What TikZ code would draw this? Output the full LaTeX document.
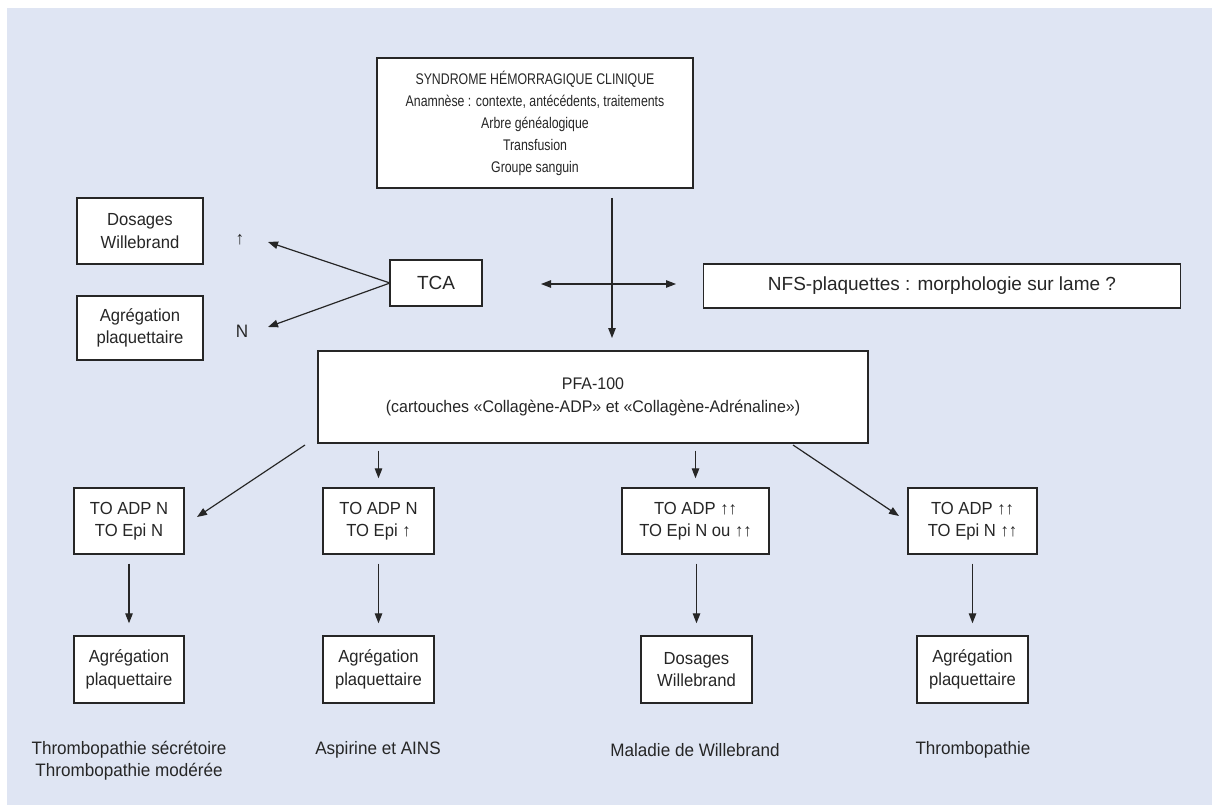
\documentclass[tikz,border=0pt]{standalone}
\usepackage{fontspec}
\setmainfont{Liberation Sans}
\newfontfamily\condfont[FakeStretch=0.8]{Liberation Sans}
\newfontfamily\semifont[FakeStretch=0.95]{Liberation Sans}
\usetikzlibrary{arrows.meta,calc}
\definecolor{bgblue}{HTML}{DFE5F3}
\definecolor{ink}{HTML}{262626}
\newcommand{\up}{↑}
\tikzset{
  box/.style={draw=ink, line width=1.4pt, fill=white, inner sep=0pt, align=center, text=ink,
              font=\semifont\fontsize{17.5}{22.5}\selectfont},
  bigbox/.style={box, font=\fontsize{19}{22}\selectfont},
  topbox/.style={box, font=\condfont\fontsize{15.4}{22}\selectfont},
  lbl/.style={inner sep=0pt, align=center, text=ink, font=\semifont\fontsize{18}{22}\selectfont},
  arr/.style={draw=ink, line width=1.2pt, -{Triangle[length=10pt,width=7.5pt]}},
  darr/.style={draw=ink, line width=1.2pt, {Triangle[length=10pt,width=7.5pt]}-{Triangle[length=10pt,width=7.5pt]}},
  ln/.style={draw=ink, line width=1.2pt}
}
\begin{document}
\begin{tikzpicture}[x=1pt,y=-1pt]
\useasboundingbox (0,0) rectangle (1212,805);
\fill[bgblue] (7,8) rectangle (1212,805);

% top box
\node[topbox, minimum width=316pt, minimum height=130pt] (top) at (535,123)
  {SYNDROME HÉMORRAGIQUE CLINIQUE\\Anamnèse : contexte, antécédents, traitements\\Arbre généalogique\\Transfusion\\Groupe sanguin};

% left side
\node[bigbox, minimum width=92pt, minimum height=46pt] (tca) at (436,283) {TCA};
\node[box, minimum width=126pt, minimum height=66pt] (dosl) at (140,231) {Dosages\\Willebrand};
\node[box, minimum width=126pt, minimum height=64pt] (agrl) at (140,328) {Agrégation\\plaquettaire};
\node[lbl] (uplbl) at (240,240) {\up};
\node[lbl] (nlbl) at (242,331) {N};

% NFS
\node[bigbox, minimum width=477pt, minimum height=44pt] (nfs) at (942,286) {NFS-plaquettes : morphologie sur lame ?};

% PFA
\node[box, minimum width=550pt, minimum height=92pt, font=\semifont\fontsize{16.8}{22.5}\selectfont] (pfa) at (593,397)
  {PFA-100\\(cartouches «Collagène-ADP» et «Collagène-Adrénaline»)};

% row 1
\node[box, minimum width=110pt, minimum height=66pt] (b1) at (129,521) {TO ADP N\\TO Epi N};
\node[box, minimum width=111pt, minimum height=66pt] (b2) at (378.5,521) {TO ADP N\\TO Epi \up};
\node[box, minimum width=147pt, minimum height=66pt] (b3) at (695.5,521) {TO ADP \up\up\\TO Epi N ou \up\up};
\node[box, minimum width=129pt, minimum height=66pt] (b4) at (972.5,521) {TO ADP \up\up\\TO Epi N \up\up};

% row 2
\node[box, minimum width=110pt, minimum height=67pt] (c1) at (129,669.5) {Agrégation\\plaquettaire};
\node[box, minimum width=111pt, minimum height=67pt] (c2) at (378.5,669.5) {Agrégation\\plaquettaire};
\node[box, minimum width=111pt, minimum height=67pt] (c3) at (696.5,669.5) {Dosages\\Willebrand};
\node[box, minimum width=111pt, minimum height=67pt] (c4) at (972.5,669.5) {Agrégation\\plaquettaire};

% labels
\node[lbl] (l1) at (129,761) {Thrombopathie sécrétoire\\Thrombopathie modérée};
\node[lbl] (l2) at (378,750) {Aspirine et AINS};
\node[lbl] (l3) at (695,750) {Maladie de Willebrand};
\node[lbl] (l4) at (973,750) {Thrombopathie};

% cross connector
\coordinate (vtop) at (612,198);
\coordinate (vbot) at (612,338);
\coordinate (hl) at (541,284);
\coordinate (hr) at (676,284);
\draw[ln] (vtop) -- (612,284);
\draw[arr] (612,284) -- (vbot);
\draw[darr] (hl) -- (hr);

% TCA arrows
\coordinate (tcaw) at (390,283);
\coordinate (tup) at (268,242);
\coordinate (tn) at (268,327);
\draw[arr] (tcaw) -- (tup);
\draw[arr] (tcaw) -- (tn);

% PFA to row 1
\coordinate (dl0) at (305,445);
\coordinate (dl1) at (197,517);
\coordinate (dr0) at (793,445);
\coordinate (dr1) at (899,516);
\draw[arr] (dl0) -- (dl1);
\draw[arr] (dr0) -- (dr1);
\draw[arr, shorten <=7pt, shorten >=9pt] (pfa.south -| b2.north) -- (b2.north);
\draw[arr, shorten <=7pt, shorten >=9pt] (pfa.south -| b3.north) -- (b3.north);

% row 1 to row 2
\foreach \a/\b in {b1/c1,b2/c2,b4/c4}{
  \draw[arr, shorten <=9pt, shorten >=12pt] (\a.south) -- (\b.north);
}
\draw[arr, shorten <=9pt, shorten >=12pt] (b3.south -| c3.north) -- (c3.north);
\end{tikzpicture}
\end{document}
